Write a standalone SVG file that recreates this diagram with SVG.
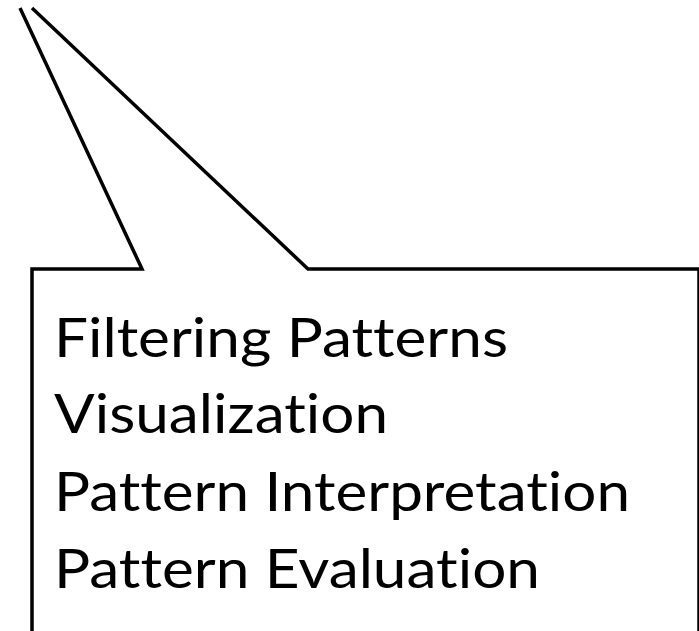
<svg xmlns="http://www.w3.org/2000/svg" width="699" height="631" viewBox="0 0 699 631">
<style>
.o{fill:none;stroke:#000;stroke-width:3.5;stroke-linejoin:miter}
.t{font-family:Lato,"Open Sans","Liberation Sans",sans-serif;font-size:55px;fill:#000;font-variant-ligatures:none;font-feature-settings:"liga" 0,"clig" 0}
</style>
<rect width="699" height="631" fill="#fff"/>
<g id="callout">
<polyline class="o" points="32,640 32,269 142,269 20,8"/>
<polyline class="o" points="32,8 308,269 699,269 699,640"/>
</g>
<g id="labels">
<text class="t" x="54" y="357" textLength="454" lengthAdjust="spacingAndGlyphs">Filtering Patterns</text>
<text class="t" x="54" y="433" textLength="334" lengthAdjust="spacingAndGlyphs">Visualization</text>
<text class="t" x="54" y="511" textLength="576" lengthAdjust="spacingAndGlyphs">Pattern Interpretation</text>
<text class="t" x="54" y="588" textLength="486" lengthAdjust="spacingAndGlyphs">Pattern Evaluation</text>
</g>
</svg>
